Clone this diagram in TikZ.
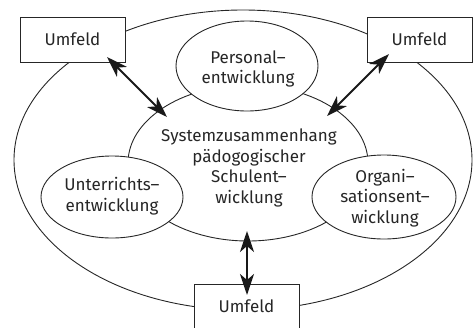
\documentclass[tikz,border=0pt]{standalone}
\usepackage{fontspec}
\setmainfont{Fira Sans}
\usetikzlibrary{shapes.geometric,arrows.meta}
\begin{document}
\begin{tikzpicture}[x=1pt,y=-1pt,
  font=\fontsize{17}{20.5}\selectfont,
  line/.style={draw=black!85,line width=0.9pt},
  box/.style={line,fill=white,minimum width=105pt,minimum height=45pt,inner sep=0pt,text=black!85},
  oval/.style={line,fill=white,ellipse,inner sep=0pt},
  txt/.style={align=center,inner sep=0pt,text=black!85},
  tip/.style={Stealth[length=21pt,width=14pt,inset=6pt]},
  link/.style={draw=black!90,line width=2pt,{Stealth[length=21pt,width=14pt,inset=6pt]}-{Stealth[length=21pt,width=14pt,inset=6pt]}}
]
\useasboundingbox (0,0) rectangle (474,327);
% outer ellipse
\node[line,ellipse,minimum width=458pt,minimum height=300pt] (outer) at (243,160) {};
% middle ellipse
\node[line,ellipse,minimum width=240pt,minimum height=156pt] (mid) at (248,163) {};
\node[txt] (midtext) at (249,168) {Systemzusammenhang\\pädogogischer\\Schulent–\\wicklung};
% small ellipses
\node[oval,minimum width=142pt,minimum height=90pt] (pers) at (247,66) {};
\node[txt] (perstext) at (248,69) {Personal–\\entwicklung};
\node[oval,minimum width=142pt,minimum height=82pt] (unt) at (112,197) {};
\node[txt] (unttext) at (112,196) {Unterrichts–\\entwicklung};
\node[oval,minimum width=144pt,minimum height=84pt] (org) at (384,197) {};
\node[txt] (orgtext) at (385,198) {Organi–\\sationsent–\\wicklung};
% boxes
\node[box] (tl) at (72.5,39.5) {Umfeld};
\node[box] (tr) at (419.5,39.5) {Umfeld};
\node[box] (bt) at (246.5,306.5) {Umfeld};
% arrow end points
\coordinate (tla) at (107,57);
\coordinate (tlb) at (167,117);
\coordinate (tra) at (389,54);
\coordinate (trb) at (327,116);
\coordinate (bta) at (247,231);
\coordinate (btb) at (247,295);
\draw[link] (tla) -- (tlb);
\draw[link] (tra) -- (trb);
\draw[link] (bta) -- (btb);
\end{tikzpicture}
\end{document}
